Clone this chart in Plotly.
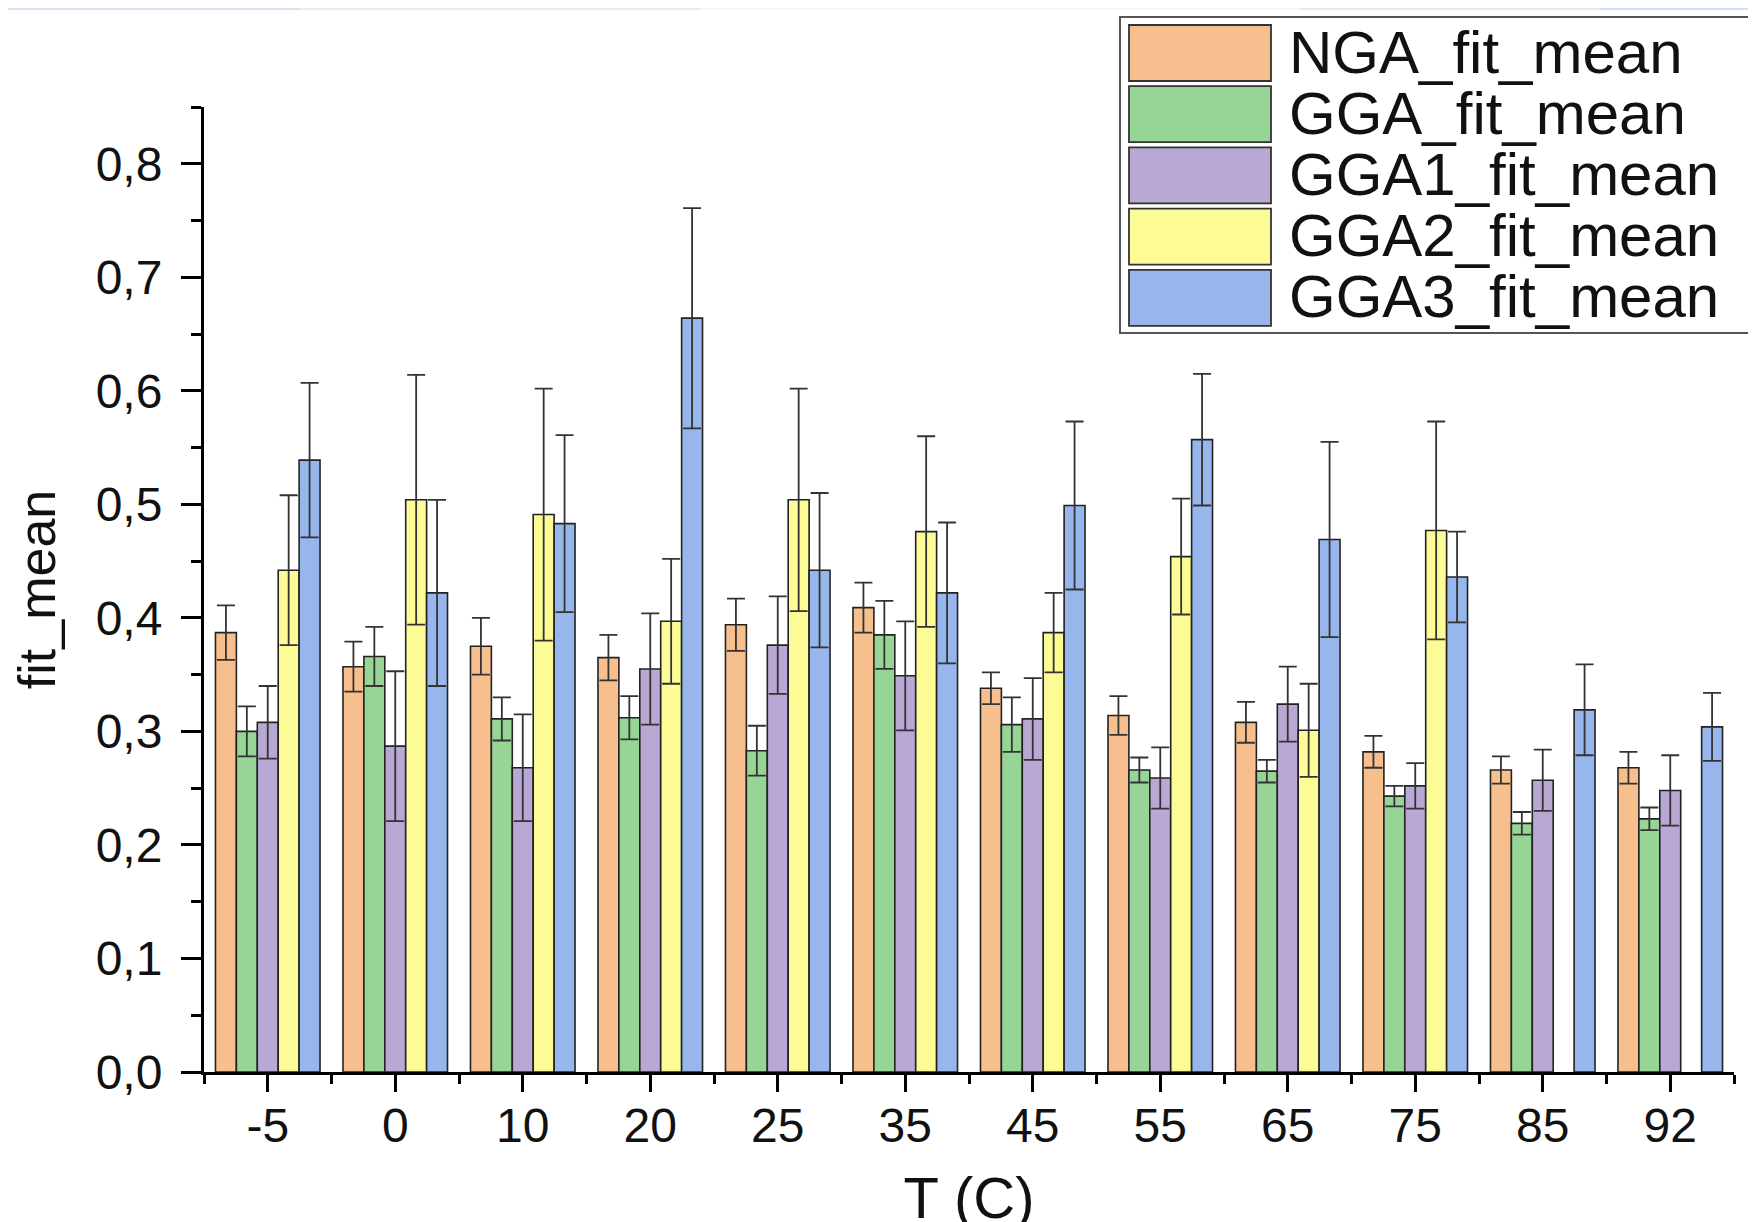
import plotly.graph_objects as go

temps = ["-5", "0", "10", "20", "25", "35", "45", "55", "65", "75", "85", "92"]
series_names = ["NGA_fit_mean", "GGA_fit_mean", "GGA1_fit_mean", "GGA2_fit_mean", "GGA3_fit_mean"]

nga = [0.387, 0.357, 0.375, 0.365, 0.394, 0.409, 0.338, 0.314, 0.308, 0.282, 0.266, 0.268]
nga_err = [0.024, 0.022, 0.025, 0.020, 0.023, 0.022, 0.014, 0.017, 0.018, 0.014, 0.012, 0.014]
gga = [0.300, 0.366, 0.311, 0.312, 0.283, 0.385, 0.306, 0.266, 0.265, 0.243, 0.219, 0.223]
gga_err = [0.022, 0.026, 0.019, 0.019, 0.022, 0.030, 0.024, 0.011, 0.010, 0.009, 0.010, 0.010]
gga1 = [0.308, 0.287, 0.268, 0.355, 0.376, 0.349, 0.311, 0.259, 0.324, 0.252, 0.257, 0.248]
gga1_err = [0.032, 0.066, 0.047, 0.049, 0.043, 0.048, 0.036, 0.027, 0.033, 0.020, 0.027, 0.031]
gga2 = [0.442, 0.504, 0.491, 0.397, 0.504, 0.476, 0.387, 0.454, 0.301, 0.477, None, None]
gga2_err = [0.066, 0.110, 0.111, 0.055, 0.098, 0.084, 0.035, 0.051, 0.041, 0.096, None, None]
gga3 = [0.539, 0.422, 0.483, 0.664, 0.442, 0.422, 0.499, 0.557, 0.469, 0.436, 0.319, 0.304]
gga3_err = [0.068, 0.082, 0.078, 0.097, 0.068, 0.062, 0.074, 0.058, 0.086, 0.040, 0.040, 0.030]

values = [nga, gga, gga1, gga2, gga3]
errors = [nga_err, gga_err, gga1_err, gga2_err, gga3_err]
colors = ["#F8BF8E", "#97D596", "#B9A8D3", "#FCFB95", "#96B6EC"]

# page body adds an 8px offset; work in screen pixels and convert
OFF = 8
W, H = 1756, 1222
SL, SR, ST, SB = 204, 1734, 107, 1072          # plot area in screen px
L, T = SL - OFF, ST - OFF
R = W - (SR - OFF)
B = H - (SB - OFF)
PW, PH = SR - SL, SB - ST

def px(x):
    return (x - SL) / PW

def py(y):
    return (SB - y) / PH

xpos = list(range(len(temps)))

fig = go.Figure()
for name, vals, errs, col in zip(series_names, values, errors, colors):
    fig.add_trace(go.Bar(
        x=xpos, y=vals, name=name,
        marker=dict(color=col, line=dict(color="#222222", width=1.6)),
        error_y=dict(type="data", array=errs, visible=True,
                     color="#333333", thickness=1.8, width=9),
        showlegend=False,
    ))

font_main = "Liberation Sans, Arial, sans-serif"

shapes = []
annotations = []

# top faint blue strip
strip = [(0, 300, "#d6e5f4"), (300, 700, "#e4eef8"), (700, 1300, "#f3f7fc"),
         (1300, 1600, "#e0ebf6"), (1600, 1764, "#d0e1f2")]
for x0, x1, c in strip:
    shapes.append(dict(type="rect", xref="paper", yref="paper",
                       x0=px(x0), x1=px(x1), y0=py(10), y1=py(0),
                       fillcolor=c, line=dict(width=0), layer="below"))

# legend box
shapes.append(dict(type="rect", xref="paper", yref="paper",
                   x0=px(1120), x1=px(1754), y0=py(333), y1=py(17),
                   fillcolor="white", line=dict(color="#555555", width=2)))
for i, (name, col) in enumerate(zip(series_names, colors)):
    top = 25 + i * 61.2
    shapes.append(dict(type="rect", xref="paper", yref="paper",
                       x0=px(1129), x1=px(1271), y0=py(top + 56), y1=py(top),
                       fillcolor=col, line=dict(color="#333333", width=1.8)))
    annotations.append(dict(xref="paper", yref="paper", x=px(1287), y=py(top + 27),
                            text=name, showarrow=False, xanchor="left", yanchor="middle",
                            font=dict(family=font_main, size=60, color="#111111")))

fig.update_layout(
    width=W, height=H,
    margin=dict(l=L, r=R, t=T, b=B, autoexpand=False),
    paper_bgcolor="white", plot_bgcolor="white",
    barmode="group", bargap=0.18, bargroupgap=0.0,
    separators=",.",
    font=dict(family=font_main, color="#111111"),
    shapes=shapes, annotations=annotations,
    xaxis=dict(
        automargin=False,
        range=[-0.5, len(temps) - 0.5],
        tickmode="array", tickvals=xpos, ticktext=temps,
        ticks="outside", ticklen=17, tickwidth=2.5, tickcolor="black",
        minor=dict(tickmode="linear", tick0=0.5, dtick=1, ticks="outside",
                   ticklen=9, tickwidth=2.5, tickcolor="black"),
        showline=True, linewidth=3, linecolor="black",
        showgrid=False, zeroline=False,
        tickfont=dict(size=48, color="#111111"),
        ticklabelstandoff=-8,
        title=dict(text="T (C)", font=dict(size=58, color="#111111"), standoff=34),
    ),
    yaxis=dict(
        automargin=False,
        range=[0, 0.85],
        tick0=0, dtick=0.1, tickformat=".1f",
        ticks="outside", ticklen=20, tickwidth=2.5, tickcolor="black",
        minor=dict(tick0=0, dtick=0.05, ticks="outside", ticklen=10,
                   tickwidth=2.5, tickcolor="black"),
        showline=True, linewidth=3, linecolor="black",
        showgrid=False, zeroline=False,
        tickfont=dict(size=48, color="#111111"),
        ticklabelstandoff=9,
        title=dict(text="fit_mean", font=dict(size=52, color="#111111"), standoff=26),
    ),
)

fig.write_html("out.html")
